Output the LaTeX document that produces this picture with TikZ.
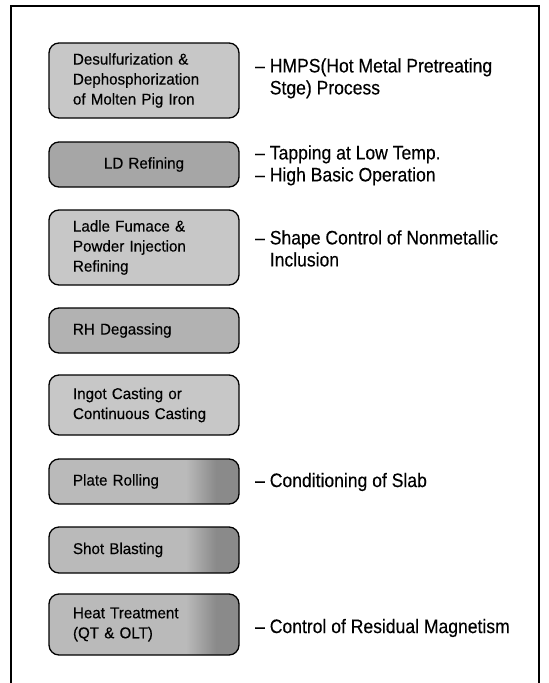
\documentclass[tikz,border=0pt]{standalone}
\usepackage{fontspec}
\setmainfont{Liberation Sans}
\newfontfamily\boxfont[FakeStretch=0.97,FakeBold=0.3]{Liberation Sans}
\newfontfamily\notefont[FakeStretch=0.9,FakeBold=0.3]{Liberation Sans}
\colorlet{shA}{black!27}
\colorlet{shB}{black!46}
\pgfdeclarehorizontalshading{rightdark}{100bp}{color(0bp)=(shA); color(25bp)=(shA); color(61bp)=(shA); color(69bp)=(shB); color(75bp)=(shB); color(100bp)=(shB)}
\tikzset{
  proc/.style={draw=black, line width=1.3pt, rounded corners=10pt,
    minimum width=190pt, text width=142pt, inner xsep=0pt, inner ysep=0pt,
    align=left, font=\boxfont\fontsize{15.6}{20}\selectfont},
  light/.style={fill=black!22},
  mid/.style={fill=black!30},
  dark/.style={fill=black!35},
  darkright/.style={shading=rightdark},
  note/.style={anchor=west, inner sep=0pt, font=\notefont\fontsize{19.5}{22}\selectfont},
  frame/.style={line width=1.5pt, draw=black}
}
\begin{document}
\begin{tikzpicture}[x=1pt,y=-1pt]
\useasboundingbox (0,0) rectangle (549,683);
\coordinate (fbl) at (11,683);
\coordinate (ftl) at (11,6);
\coordinate (ftr) at (539,6);
\coordinate (fbr) at (539,683);
\draw[frame] (fbl) -- (ftl) -- (ftr) -- (fbr);

\node[proc, light, minimum height=75pt] (b1) at (144,80.5) {Desulfurization \&\\Dephosphorization\\of Molten Pig Iron};
\node[proc, dark, minimum height=45pt, align=center] (b2) at (144,164.5) {LD Refining};
\node[proc, light, minimum height=75pt] (b3) at (144,247.5) {Ladle Fumace \&\\Powder Injection\\Refining};
\node[proc, mid, minimum height=45pt] (b4) at (144,330.5) {RH Degassing};
\node[proc, light, minimum height=60pt] (b5) at (144,405) {Ingot Casting or\\Continuous Casting};
\node[proc, darkright, minimum height=45pt] (b6) at (144,481.5) {Plate Rolling};
\node[proc, darkright, minimum height=46pt] (b7) at (144,550) {Shot Blasting};
\node[proc, darkright, minimum height=61pt] (b8) at (144,624.5) {Heat Treatment\\(QT \& OLT)};

\node[note] (n1) at (255,79) {\begin{tabular}{@{}l@{ }l@{}}–& HMPS(Hot Metal Pretreating\\ & Stge) Process\end{tabular}};
\node[note] (n2) at (255,166) {\begin{tabular}{@{}l@{ }l@{}}–& Tapping at Low Temp.\\ –& High Basic Operation\end{tabular}};
\node[note] (n3) at (255,251) {\begin{tabular}{@{}l@{ }l@{}}–& Shape Control of Nonmetallic\\ & Inclusion\end{tabular}};
\node[note] (n6) at (255,482) {– Conditioning of Slab};
\node[note] (n8) at (255,628) {– Control of Residual Magnetism};
\end{tikzpicture}
\end{document}
